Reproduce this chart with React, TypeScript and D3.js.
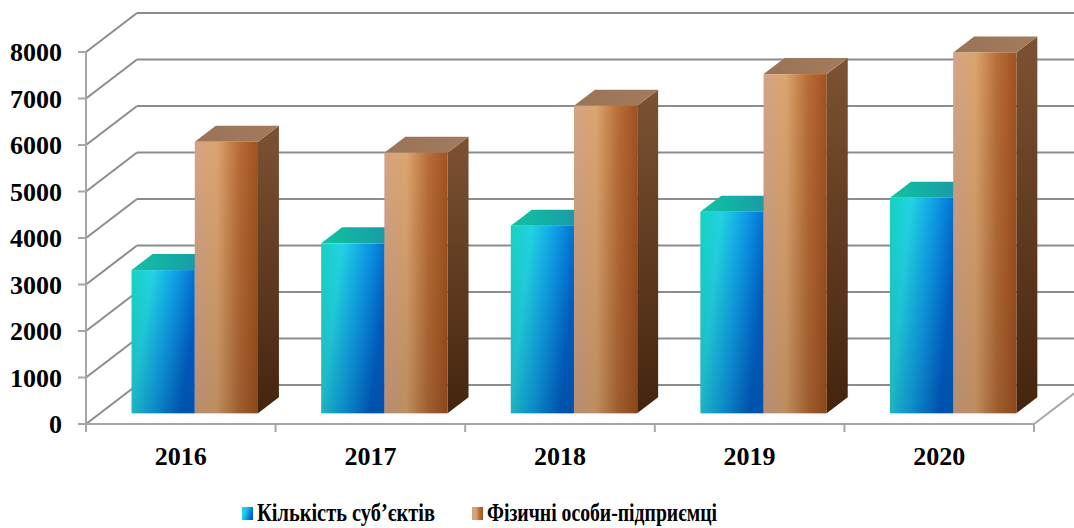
import React, { useEffect, useRef } from 'react'
import * as d3 from 'd3'

const categories = ['2016', '2017', '2018', '2019', '2020']
const seriesNames = ['Кількість суб’єктів', 'Фізичні особи-підприємці']
const subjects = [3080, 3655, 4035, 4335, 4635]
const entrepreneurs = [5840, 5605, 6615, 7295, 7760]
const yTicks = [0, 1000, 2000, 3000, 4000, 5000, 6000, 7000, 8000]

const W = 1074
const H = 528

const App = () => {
  const ref = useRef<SVGSVGElement>(null)

  useEffect(() => {
    const svg = d3.select(ref.current)
    svg.selectAll('*').remove()

    // oblique depth of the plot box
    const depthX = 51
    const depthY = -39
    // bars sit between these depth fractions
    const f0 = 0.274
    const f1 = 0.685

    const y = d3.scaleLinear().domain([0, 8000]).range([424, 52])
    const x = d3.scaleBand<string>().domain(categories).range([86, 1034]).padding(0)
    const x1 = d3.scaleBand<number>().domain([0, 1]).range([0, x.bandwidth()]).paddingInner(0).paddingOuter(0.5)

    const defs = svg.append('defs')
    const grad = (id: string, x2: number, y2: number, stops: [number, string][]) => {
      const g = defs.append('linearGradient').attr('id', id)
        .attr('x1', 0).attr('y1', 0).attr('x2', x2).attr('y2', y2)
      stops.forEach(([o, c]) => g.append('stop').attr('offset', o).attr('stop-color', c))
    }
    grad('bFront', 1, 0.35, [[0, '#15d2c0'], [0.3, '#22d3e2'], [0.65, '#0e9ce6'], [1, '#0060c8']])
    grad('bTop', 1, 0, [[0, '#0fc4a2'], [1, '#1c8fa8']])
    grad('bSide', 0, 1, [[0, '#0e6f90'], [1, '#073e78']])
    grad('oFront', 1, 0, [[0, '#d4a386'], [0.35, '#dba46e'], [0.7, '#b86c36'], [1, '#a0521f']])
    grad('oTop', 1, 0, [[0, '#9a7458'], [1, '#a37a5c']])
    grad('oSide', 0, 1, [[0, '#7c5233'], [1, '#44240e']])
    const shade = defs.append('linearGradient').attr('id', 'shade')
      .attr('x1', 0).attr('y1', 0).attr('x2', 0).attr('y2', 1)
    shade.append('stop').attr('offset', 0).attr('stop-color', '#000').attr('stop-opacity', 0)
    shade.append('stop').attr('offset', 1).attr('stop-color', '#000').attr('stop-opacity', 0.14)

    const gridColor = '#8c8c8c'
    const x0 = x.range()[0]
    const xEnd = x.range()[1]

    // back wall gridlines + left wall diagonals
    yTicks.forEach(t => {
      svg.append('line')
        .attr('x1', x0 + depthX).attr('x2', xEnd + depthX)
        .attr('y1', y(t) + depthY).attr('y2', y(t) + depthY)
        .attr('stroke', gridColor).attr('stroke-width', 2)
      svg.append('line')
        .attr('x1', x0).attr('y1', y(t))
        .attr('x2', x0 + depthX).attr('y2', y(t) + depthY)
        .attr('stroke', gridColor).attr('stroke-width', 2)
      // tick mark
      svg.append('line')
        .attr('x1', x0 - 8).attr('x2', x0)
        .attr('y1', y(t)).attr('y2', y(t))
        .attr('stroke', '#a6a6a6').attr('stroke-width', 2)
      svg.append('text')
        .attr('x', 62).attr('y', y(t)).attr('dy', '0.35em')
        .attr('text-anchor', 'end')
        .style('font-family', '"Liberation Serif", "Times New Roman", serif')
        .style('font-weight', 'bold').style('font-size', '26px')
        .text(t)
    })

    // floor right edge
    svg.append('line')
      .attr('x1', xEnd).attr('y1', y(0))
      .attr('x2', xEnd + depthX).attr('y2', y(0) + depthY)
      .attr('stroke', '#a6a6a6').attr('stroke-width', 2)

    // value axis line and category axis line
    svg.append('line')
      .attr('x1', x0).attr('x2', x0).attr('y1', y(8000)).attr('y2', y(0))
      .attr('stroke', '#a6a6a6').attr('stroke-width', 2)
    svg.append('line')
      .attr('x1', x0).attr('x2', xEnd).attr('y1', y(0)).attr('y2', y(0))
      .attr('stroke', '#a6a6a6').attr('stroke-width', 2)
    const catEdges = categories.map(c => x(c) as number).concat([xEnd])
    catEdges.forEach(cx => {
      svg.append('line')
        .attr('x1', cx).attr('x2', cx).attr('y1', y(0)).attr('y2', y(0) + 8)
        .attr('stroke', '#a6a6a6').attr('stroke-width', 2)
    })
    categories.forEach(c => {
      svg.append('text')
        .attr('x', (x(c) as number) + x.bandwidth() / 2).attr('y', 465)
        .attr('text-anchor', 'middle')
        .style('font-family', '"Liberation Serif", "Times New Roman", serif')
        .style('font-weight', 'bold').style('font-size', '26px')
        .text(c)
    })

    // bars
    const bdx = depthX * (f1 - f0)
    const bdy = depthY * (f1 - f0)
    const shiftX = depthX * f0
    const shiftY = depthY * f0
    const base = y(0) + shiftY
    const fills = [
      { front: 'url(#bFront)', top: 'url(#bTop)', side: 'url(#bSide)' },
      { front: 'url(#oFront)', top: 'url(#oTop)', side: 'url(#oSide)' }
    ]
    const series = [subjects, entrepreneurs]
    categories.forEach((c, i) => {
      series.forEach((vals, s) => {
        const bx = (x(c) as number) + (x1(s) as number) + shiftX
        const bw = x1.bandwidth()
        const top = y(vals[i]) + shiftY
        const g = svg.append('g')
        g.append('path')
          .attr('d', `M${bx + bw},${top}L${bx + bw + bdx},${top + bdy}L${bx + bw + bdx},${base + bdy}L${bx + bw},${base}Z`)
          .attr('fill', fills[s].side)
        g.append('path')
          .attr('d', `M${bx},${top}L${bx + bdx},${top + bdy}L${bx + bw + bdx},${top + bdy}L${bx + bw},${top}Z`)
          .attr('fill', fills[s].top)
        g.append('rect')
          .attr('x', bx).attr('y', top).attr('width', bw).attr('height', base - top)
          .attr('fill', fills[s].front)
        g.append('rect')
          .attr('x', bx).attr('y', top).attr('width', bw).attr('height', base - top)
          .attr('fill', 'url(#shade)')
      })
    })

    // legend
    const legend = [
      { x: 242, w: 178, fill: 'url(#bFront)' },
      { x: 472, w: 230, fill: 'url(#oFront)' }
    ]
    legend.forEach((l, i) => {
      svg.append('rect')
        .attr('x', l.x).attr('y', 507).attr('width', 11).attr('height', 13)
        .attr('fill', l.fill)
      svg.append('text')
        .attr('x', l.x + 15).attr('y', 521)
        .attr('textLength', l.w).attr('lengthAdjust', 'spacingAndGlyphs')
        .style('font-family', '"Liberation Serif", "Times New Roman", serif')
        .style('font-weight', 'bold').style('font-size', '25px')
        .text(seriesNames[i])
    })
  }, [])

  return (
    <svg ref={ref} width={W} height={H}
      style={{ position: 'absolute', left: 0, top: 0, background: '#fff' }} />
  )
}

export default App
